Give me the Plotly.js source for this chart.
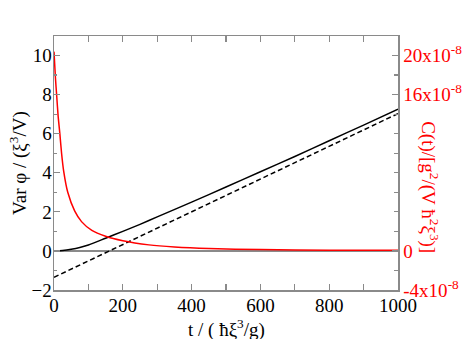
<!DOCTYPE html>
<html>
<head>
<meta charset="utf-8">
<script src="https://cdn.plot.ly/plotly-3.0.1.min.js"></script>
<style>
  html, body { margin: 0; padding: 0; background: #fff; }
  #plot { width: 463px; height: 339px; }
</style>
</head>
<body>
<div id="plot"></div>
<script>
// Var phi (black solid)
const varT = [0, 25, 50, 75, 100, 150, 200, 250, 300, 400, 500, 600, 700, 800, 900, 1000];
const varVals = [0, 0.02, 0.08, 0.17, 0.3, 0.65, 1.0, 1.36, 1.74, 2.5, 3.27, 4.05, 4.83, 5.64, 6.44, 7.25];

// linear asymptote (black dashed)
const fitT = [0, 1000];
const fitVals = [-1.35, 7.03];

// C(t) (red), in units of 1e-8 on the right axis
const corrT = [0, 4, 8, 12, 17, 22, 28, 40, 60, 80, 110, 150, 200, 276, 350, 450, 600, 800, 1000];
const corrVals = [20.4, 17.8, 15.8, 13.8, 12.0, 10.0, 8.2, 6.0, 4.1, 3.0, 2.1, 1.5, 1.04, 0.62, 0.4, 0.24, 0.14, 0.08, 0.06];

// right axis labels
const rightTickVals = [-4, 0, 16, 20];
const rightTickText = ['-4x10<sup>-8</sup>', '0', '16x10<sup>-8</sup>', '20x10<sup>-8</sup>'];

const serif = '"Liberation Serif", "Times New Roman", Times, serif';
const frame = '#8a8a8a';

const traces = [
    {
        x: varT, y: varVals,
        mode: 'lines', type: 'scatter',
        line: { color: 'black', width: 1.5, shape: 'spline', smoothing: 0.6 },
        xaxis: 'x', yaxis: 'y'
    },
    {
        x: fitT, y: fitVals,
        mode: 'lines', type: 'scatter',
        line: { color: 'black', width: 1.5, dash: '5px,3px' },
        xaxis: 'x', yaxis: 'y'
    },
    {
        x: corrT, y: corrVals,
        mode: 'lines', type: 'scatter',
        line: { color: 'red', width: 1.5, shape: 'spline', smoothing: 0.6 },
        xaxis: 'x', yaxis: 'y2'
    }
];

const layout = {
    width: 463, height: 339,
    margin: { l: 54, r: 65, t: 36, b: 49 },
    paper_bgcolor: 'white', plot_bgcolor: 'white',
    showlegend: false,
    font: { family: serif, size: 19, color: 'black' },
    xaxis: {
        range: [0, 1000],
        tickmode: 'linear', tick0: 0, dtick: 200,
        ticks: 'inside', ticklen: 6, tickwidth: 1.2, tickcolor: frame,
        minor: { dtick: 100, ticks: 'inside', ticklen: 3, tickcolor: frame },
        showline: true, linecolor: frame, linewidth: 1.5, mirror: 'allticks',
        showgrid: false, zeroline: false,
        ticklabelstandoff: -2,
        tickfont: { family: serif, size: 19, color: 'black' }
    },
    yaxis: {
        range: [-2, 11],
        tickmode: 'linear', tick0: 0, dtick: 2,
        ticks: 'inside', ticklen: 6, tickwidth: 1.2, tickcolor: frame,
        minor: { dtick: 1, ticks: 'inside', ticklen: 3, tickcolor: frame },
        showline: true, linecolor: frame, linewidth: 1.5,
        showgrid: false,
        zeroline: true, zerolinecolor: frame, zerolinewidth: 1.5,
        ticklabelstandoff: -3,
        tickfont: { family: serif, size: 19, color: 'black' }
    },
    yaxis2: {
        overlaying: 'y', side: 'right',
        range: [-4, 22],
        tickmode: 'array', tickvals: rightTickVals, ticktext: rightTickText,
        ticks: 'inside', ticklen: 6, tickwidth: 1.2, tickcolor: frame,
        minor: { tickmode: 'linear', tick0: 0, dtick: 2, ticks: 'inside', ticklen: 4, tickcolor: frame },
        showline: true, linecolor: frame, linewidth: 1.5,
        showgrid: false, zeroline: false,
        tickfont: { family: serif, size: 19, color: 'red' }
    },
    annotations: [
        {
            text: 't / ( ħξ<sup>3</sup>/g)',
            xref: 'paper', yref: 'paper', x: 0.5, y: -0.15,
            xanchor: 'center', yanchor: 'middle', showarrow: false,
            font: { family: serif, size: 19, color: 'black' }
        },
        {
            text: 'Var φ / (ξ<sup>3</sup>/V)',
            xref: 'paper', yref: 'paper', x: -0.105, y: 0.5,
            xanchor: 'center', yanchor: 'middle', showarrow: false, textangle: -90,
            font: { family: serif, size: 19, color: 'black' }
        },
        {
            text: 'C(t)/[g<sup>2</sup>/(V ħ<sup>2</sup>ξ<sup>3</sup>)]',
            xref: 'paper', yref: 'paper', x: 1.093, y: 0.405,
            xanchor: 'center', yanchor: 'middle', showarrow: false, textangle: 90,
            font: { family: serif, size: 19, color: 'red' }
        }
    ]
};

Plotly.newPlot('plot', traces, layout, { displayModeBar: false, staticPlot: true });
</script>
</body>
</html>
